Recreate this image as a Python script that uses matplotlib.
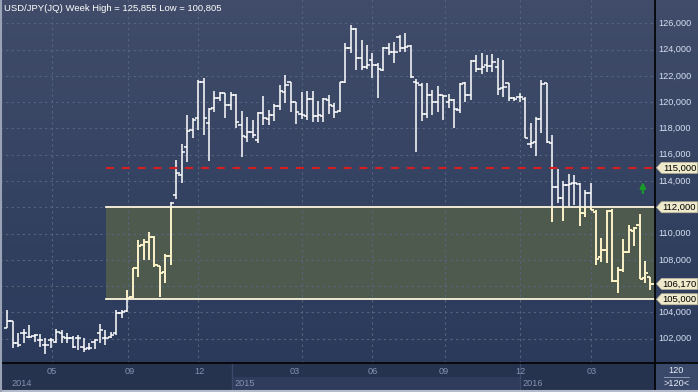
import numpy as np
import matplotlib
matplotlib.use('Agg')
import matplotlib.pyplot as plt
from matplotlib.patches import Rectangle, Polygon
from matplotlib.collections import LineCollection
from matplotlib.colors import LinearSegmentedColormap
from matplotlib.lines import Line2D

title = "USD/JPY(JQ) Week High = 125,855 Low = 100,805"

opens = [
    102.79, 103.35, 101.64, 102.40, 102.15, 102.20, 101.90, 101.52, 101.90, 101.77,
    102.46, 102.02, 102.02, 102.02, 101.34, 101.26, 101.77, 102.40, 102.02, 102.15,
    102.40, 103.98, 104.13, 105.15, 107.35, 109.13, 109.38, 109.71, 107.53, 107.05,
    108.32, 112.93, 114.45, 116.61, 117.88, 118.82, 121.56, 118.39, 119.53, 120.34,
    120.67, 119.78, 120.54, 118.26, 117.37, 117.75, 117.12, 119.15, 118.72, 119.02,
    119.73, 120.75, 121.51, 119.98, 119.07, 118.97, 120.24, 118.97, 118.97, 120.16,
    119.73, 119.32, 121.51, 124.14, 125.57, 123.38, 122.70, 123.21, 122.83, 122.45,
    124.14, 123.84, 124.98, 124.14, 124.30, 121.56, 121.30, 119.07, 120.54, 119.98,
    120.54, 119.98, 120.16, 119.40, 121.43, 120.54, 123.13, 122.52, 122.83, 122.77,
    122.70, 121.05, 121.43, 120.29, 120.42, 120.21, 116.81, 116.99, 118.69, 121.43,
    116.92, 113.57, 112.68, 113.69, 113.82, 113.77, 111.53, 113.11, 111.67, 108.24,
    108.75, 111.74, 106.41, 107.23, 108.62, 110.22, 110.65, 106.59, 106.72]

highs = [
    104.18, 103.35, 102.40, 102.71, 103.04, 102.35, 102.35, 102.02, 102.02, 102.71,
    102.66, 102.40, 102.20, 102.28, 102.02, 101.64, 101.95, 103.11, 102.66, 102.53,
    104.18, 104.18, 105.70, 107.35, 109.51, 109.56, 110.14, 109.81, 107.53, 108.42,
    112.42, 115.60, 116.79, 119.02, 118.77, 121.68, 121.86, 119.58, 120.85, 120.75,
    120.67, 120.75, 120.59, 119.32, 118.89, 118.64, 119.22, 120.49, 119.40, 119.83,
    121.30, 122.07, 121.56, 120.04, 120.75, 120.85, 120.85, 120.09, 120.34, 120.54,
    119.91, 121.56, 124.47, 125.86, 125.67, 124.73, 124.35, 123.71, 122.95, 124.22,
    124.47, 124.55, 125.11, 125.23, 124.35, 121.76, 121.43, 121.43, 120.92, 121.25,
    120.54, 120.59, 120.24, 121.43, 121.56, 123.21, 123.59, 123.71, 123.59, 123.64,
    123.33, 123.21, 121.48, 120.42, 120.67, 120.42, 118.44, 118.84, 121.69, 121.48,
    117.50, 114.89, 114.02, 114.53, 114.45, 113.82, 113.31, 113.82, 111.79, 109.64,
    111.79, 111.84, 107.48, 109.56, 110.65, 110.52, 111.49, 107.94, 106.72]

lows = [
    102.79, 101.31, 101.39, 101.69, 102.02, 101.77, 101.39, 100.81, 101.26, 101.69,
    101.64, 101.69, 101.26, 101.14, 101.01, 101.14, 101.19, 101.64, 101.52, 102.02,
    102.28, 103.55, 104.05, 105.07, 106.72, 107.99, 107.99, 107.48, 105.20, 106.21,
    107.61, 112.60, 113.82, 115.42, 117.24, 117.88, 117.50, 115.55, 119.27, 120.09,
    118.82, 119.40, 118.00, 115.85, 116.99, 117.24, 116.86, 118.26, 118.26, 118.56,
    119.40, 119.91, 119.22, 118.31, 118.72, 118.64, 118.51, 118.51, 118.46, 119.07,
    118.82, 119.22, 121.43, 123.71, 122.45, 122.45, 122.52, 121.86, 120.34, 122.37,
    123.59, 123.00, 123.84, 123.79, 121.81, 116.18, 118.56, 118.77, 119.02, 119.22,
    118.64, 119.58, 118.06, 119.15, 119.98, 120.16, 122.32, 122.11, 122.27, 122.32,
    120.54, 120.37, 120.11, 120.11, 120.04, 117.25, 116.48, 115.90, 117.63, 116.92,
    110.90, 112.30, 110.98, 112.10, 112.17, 110.57, 111.28, 111.79, 107.60, 107.86,
    107.78, 106.34, 105.50, 107.10, 108.49, 109.05, 106.51, 106.21, 105.70]

closes = [
    103.35, 101.64, 101.52, 102.40, 102.15, 102.28, 101.90, 101.52, 101.90, 102.53,
    102.15, 102.02, 101.39, 102.02, 101.19, 101.26, 101.90, 102.66, 102.02, 102.28,
    103.93, 104.05, 105.07, 107.35, 109.05, 109.38, 109.76, 107.61, 106.97, 108.32,
    112.30, 114.58, 116.23, 117.80, 118.64, 121.56, 118.82, 119.48, 120.29, 120.67,
    119.78, 120.54, 118.46, 117.45, 117.75, 117.50, 119.15, 118.77, 119.02, 119.73,
    120.85, 121.30, 119.98, 119.22, 119.02, 120.24, 118.97, 119.02, 120.24, 119.78,
    119.27, 121.51, 124.09, 125.57, 123.38, 122.70, 122.83, 122.83, 122.52, 124.14,
    123.84, 123.84, 124.14, 124.22, 121.94, 121.43, 119.07, 120.54, 119.98, 120.54,
    120.49, 120.16, 119.48, 121.35, 120.54, 123.13, 122.52, 122.70, 122.77, 123.08,
    120.97, 121.18, 120.29, 120.21, 120.42, 117.25, 116.92, 118.69, 121.38, 116.99,
    113.57, 112.68, 113.69, 113.77, 113.82, 111.53, 113.11, 111.79, 108.04, 108.75,
    111.74, 106.41, 107.23, 108.62, 110.27, 110.40, 106.51, 106.97, 106.17]

y_ticks = list(range(102, 127, 2))
month_grid = [8.2, 22.15, 35.0, 53.98, 67.0, 80.22, 93.98, 107.0]
month_label_pos = [8.2, 22.5, 35.2, 52.8, 67.1, 80.1, 94.1, 107.3]
month_labels = ["05", "09", "12", "03", "06", "09", "12", "03"]
year_starts = [-1.34, 41.2, 94.0]
year_labels = ["2014", "2015", "2016"]
box_start = 18.1
box_low, box_high = 105.0, 112.0
resistance = 115.0
tag_values = [115.0, 112.0, 106.17, 105.0]
tag_labels = ["115,000", "112,000", "106,170", "105,000"]
signal_x, signal_y = 116.6, 113.5
bar_count_label = "120"
bar_count_sub = ">120<"

W, H = 698, 392
XL = (-1.34, 118.83)
YL = (100.15, 127.77)
FONT = 'Liberation Sans'

fig = plt.figure(figsize=(W / 100, H / 100), dpi=100)
fig.patch.set_facecolor('#25324f')

# background gradient for the upper area
bg = fig.add_axes([0, 29 / H, 1, 363 / H])
cmap = LinearSegmentedColormap.from_list('bg', ['#2b3a5b', '#404c69'])
grad = np.linspace(0, 1, 256).reshape(-1, 1)
bg.imshow(grad, aspect='auto', cmap=cmap, origin='lower', extent=(0, 1, 0, 1))
bg.axis('off')

ax = fig.add_axes([0, 29 / H, 655 / W, 363 / H])
ax.set_facecolor('none')
ax.set_xlim(*XL)
ax.set_ylim(*YL)
ax.axis('off')

# box
ax.add_patch(Rectangle((box_start, box_low), XL[1] - box_start, box_high - box_low,
                       facecolor='#4f5a4e', edgecolor='none', zorder=1))

# grid
for v in y_ticks:
    ax.plot(XL, [v, v], color='#56657f', lw=0.8, ls=(0, (2, 3)), zorder=1.5)
for m in month_grid:
    ax.plot([m, m], YL, color='#56657f', lw=0.8, ls=(0, (2, 3)), zorder=1.5)

# bars: white everywhere, cream for the parts inside the box
white_segs = []
cream_segs = []
tw = 0.6
for i, (o, h, l, c) in enumerate(zip(opens, highs, lows, closes)):
    lo, hi = min(l, o, c), max(h, o, c)
    white_segs.append([(i, lo), (i, hi)])
    white_segs.append([(i - tw, o), (i, o)])
    white_segs.append([(i, c), (i + tw, c)])
    if i >= box_start:
        a, b = max(lo, box_low), min(hi, box_high)
        if b > a:
            cream_segs.append([(i, a), (i, b)])
        if box_low <= o <= box_high:
            cream_segs.append([(i - tw, o), (i, o)])
        if box_low <= c <= box_high:
            cream_segs.append([(i, c), (i + tw, c)])
ax.add_collection(LineCollection(white_segs, colors='#ffffff', linewidths=1.1,
                                 capstyle='butt', zorder=2))
ax.add_collection(LineCollection(cream_segs, colors='#fff3c2', linewidths=1.15,
                                 capstyle='butt', zorder=2.1))

# box edges and resistance
ax.plot([box_start, XL[1]], [box_high, box_high], color='#fdf6dc', lw=1.3, zorder=3)
ax.plot([box_start, XL[1]], [box_low, box_low], color='#fdf6dc', lw=1.3, zorder=3)
ax.plot([box_start, XL[1]], [resistance, resistance], color='#d81e1e', lw=1.5,
        ls=(0, (3.8, 3.8)), zorder=3)

# signal arrow
ax.annotate('', xy=(signal_x, signal_y + 0.42), xytext=(signal_x, signal_y - 0.42),
            arrowprops=dict(arrowstyle='-|>', color='#1a9a2a', lw=1.6,
                            mutation_scale=8, shrinkA=0, shrinkB=0), zorder=4)

# title
fig.text(4 / W, 1 - 8.5 / H, title, color='white', fontsize=6.8, family=FONT,
         va='center', ha='left')

# right panel
rax = fig.add_axes([655 / W, 29 / H, 43 / W, 363 / H])
rax.set_facecolor('none')
rax.set_xlim(0, 43)
rax.set_ylim(*YL)
rax.axis('off')
th = 11 / 13.14
for v in y_ticks:
    if any(abs(v - t) < th for t in tag_values):
        continue  # covered by a price tag in the reference
    rax.text(3.5, v, f"{v},000", color='#d6e0f2', fontsize=6.6, family=FONT,
             va='center', ha='left', zorder=2)
for v, lab in zip(tag_values, tag_labels):
    pts = [(1.5, v), (6.5, v + th / 2), (42.5, v + th / 2), (42.5, v - th / 2), (6.5, v - th / 2)]
    rax.add_patch(Polygon(pts, closed=True, facecolor='#eeeacb', edgecolor='#bdb898',
                          lw=0.5, zorder=3))
    rax.text(24.5, v, lab, color='black', fontsize=6.8, family=FONT,
             va='center', ha='center', zorder=4)

# bottom axis
bax = fig.add_axes([0, 0, 655 / W, 29 / H])
bax.set_xlim(*XL)
bax.set_ylim(29, 0)
bax.set_facecolor('#25324f')
bax.axis('off')
bax.add_patch(Rectangle((XL[0], 0), XL[1] - XL[0], 29, facecolor='#26334f', edgecolor='none'))
bax.add_patch(Rectangle((year_starts[1], 14), year_starts[2] - year_starts[1], 13,
                        facecolor='#2f3c5c', edgecolor='none'))
for ys in year_starts[1:]:
    bax.plot([ys, ys], [0, 27], color='#3b4a6a', lw=1)
for p, lab in zip(month_label_pos, month_labels):
    bax.text(p, 9, lab, color='#8592b0', fontsize=6.6, family=FONT, ha='center', va='center')
for ys, lab in zip(year_starts, year_labels):
    x0 = ys + 3 / 5.45 if ys > 0 else 0.68
    bax.text(x0, 20, lab, color='#8592b0', fontsize=6.6, family=FONT, ha='left', va='center')

# bottom-right box
brax = fig.add_axes([655 / W, 0, 43 / W, 29 / H])
brax.set_xlim(0, 43)
brax.set_ylim(29, 0)
brax.axis('off')
brax.add_patch(Rectangle((0, 0), 43, 27, facecolor='#3a4869', edgecolor='none'))
brax.text(21.5, 7.5, bar_count_label, color='#e8eef8', fontsize=6.6, family=FONT,
          ha='center', va='center')
brax.plot([9, 34], [14, 14], color='#9aa6c0', lw=0.6)
brax.text(21.5, 20.5, bar_count_sub, color='#e8eef8', fontsize=6.6, family=FONT,
          ha='center', va='center')

# frame lines
fig.add_artist(Line2D([655 / W, 655 / W], [0, 1], color='black', lw=1.2))
fig.add_artist(Line2D([0, 1], [29 / H, 29 / H], color='black', lw=1.2))
fig.add_artist(Line2D([0, 1], [1 / H, 1 / H], color='#b4bccb', lw=1.5))
fig.add_artist(Line2D([1 / W, 1 / W], [0, 1], color='#9aa3b5', lw=1.5))

fig.savefig('out.png', dpi=100, facecolor=fig.get_facecolor())
